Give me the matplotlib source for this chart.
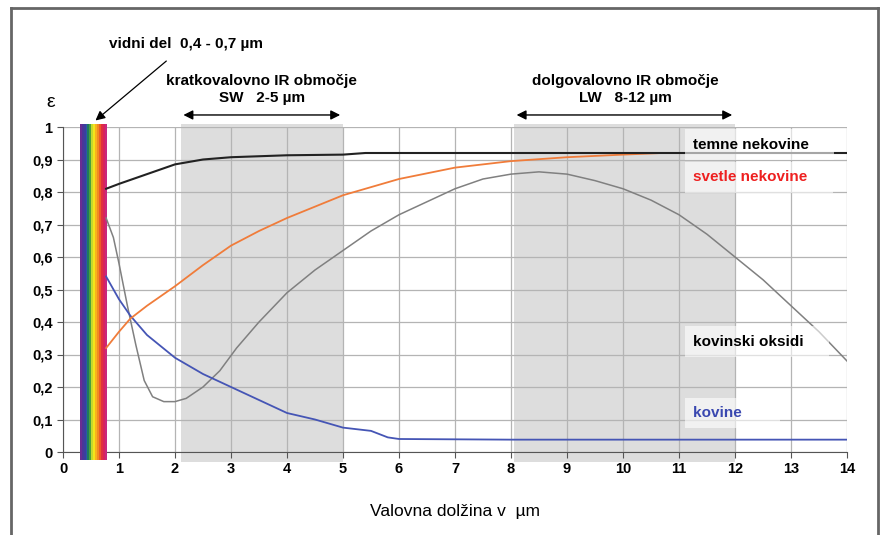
import matplotlib
matplotlib.use("Agg")
import matplotlib.pyplot as plt
from matplotlib.lines import Line2D

plt.rcParams["font.family"] = ["Liberation Sans", "DejaVu Sans"]

# emissivity curves
temne_x = [0.77, 1.0, 1.5, 2.0, 2.5, 3.0, 3.5, 4.0, 5.0, 5.4, 6.0, 8.0, 10.0, 12.0, 14.0]
temne_y = [0.81, 0.825, 0.855, 0.885, 0.90, 0.907, 0.91, 0.913, 0.915, 0.92, 0.92, 0.92, 0.92, 0.92, 0.92]

svetle_x = [0.77, 1.0, 1.2, 1.5, 2.0, 2.5, 3.0, 3.5, 4.0, 4.5, 5.0, 5.5, 6.0, 7.0, 8.0, 9.0, 10.0, 10.7]
svetle_y = [0.32, 0.37, 0.41, 0.45, 0.51, 0.575, 0.635, 0.68, 0.72, 0.755, 0.79, 0.815, 0.84, 0.875, 0.895, 0.907, 0.915, 0.92]

oksidi_x = [0.77, 0.9, 1.0, 1.15, 1.3, 1.45, 1.6, 1.8, 2.0, 2.2, 2.5, 2.8, 3.1, 3.5, 4.0, 4.5, 5.0,
            5.5, 6.0, 6.5, 7.0, 7.5, 8.0, 8.5, 9.0, 9.5, 10.0, 10.5, 11.0, 11.5, 12.0, 12.5, 13.0, 13.5, 14.0]
oksidi_y = [0.72, 0.66, 0.58, 0.45, 0.33, 0.22, 0.17, 0.155, 0.155, 0.165, 0.20, 0.25, 0.32, 0.40, 0.49, 0.56, 0.62,
            0.68, 0.73, 0.77, 0.81, 0.84, 0.855, 0.862, 0.855, 0.835, 0.81, 0.775, 0.73, 0.67, 0.60, 0.53, 0.45, 0.37, 0.28]

kovine_x = [0.77, 1.0, 1.2, 1.5, 2.0, 2.5, 3.0, 3.5, 4.0, 4.5, 5.0, 5.5, 5.8, 6.0, 8.0, 10.0, 12.0, 14.0]
kovine_y = [0.54, 0.47, 0.42, 0.36, 0.29, 0.24, 0.20, 0.16, 0.12, 0.10, 0.075, 0.065, 0.045, 0.04, 0.038, 0.038, 0.038, 0.038]

sw_band = (2.1, 5.0)
lw_band = (8.05, 12.0)
visible_band = (0.3, 0.78)

x_ticks = list(range(0, 15))
y_ticks = [i / 10 for i in range(11)]
y_labels = ["0" if v == 0 else ("1" if v == 1 else f"{v:.1f}".replace(".", ",")) for v in y_ticks]

# strip colours, left to right
spectrum_colors = ["#6a2c91", "#4a3698", "#3a3f9e", "#2d55a8", "#1f7a5c", "#4aa03c",
                   "#c4d82e", "#f2e51a", "#f7b21c", "#f08a22", "#ec5a28", "#e0303e",
                   "#d8245a", "#c8287e"]

fig = plt.figure(figsize=(8.8, 5.35), dpi=100)
ax = fig.add_axes([63 / 880, 83 / 535, 784 / 880, 325 / 535])
ax.set_xlim(0, 14)
ax.set_ylim(0, 1)

# shaded IR bands, spilling slightly past the plot area
for lo, hi in (sw_band, lw_band):
    ax.fill_between([lo, hi], -0.03, 1.01, color="#dddddd", zorder=0, clip_on=False, linewidth=0)

ax.set_xticks(x_ticks)
ax.set_yticks(y_ticks)
ax.set_yticklabels(y_labels)
ax.grid(True, color="#b4b4b4", linewidth=0.9, zorder=1)
ax.set_axisbelow(True)
for side in ("top", "right"):
    ax.spines[side].set_visible(False)
for side in ("left", "bottom"):
    ax.spines[side].set_color("#555555")
ax.tick_params(colors="#555555", length=4, labelcolor="black", labelsize=10.5)
for lab in ax.get_xticklabels() + ax.get_yticklabels():
    lab.set_fontweight("bold")

# visible spectrum strip, one thin band per colour
step = (visible_band[1] - visible_band[0]) / len(spectrum_colors)
for i, c in enumerate(spectrum_colors):
    left = visible_band[0] + i * step
    ax.fill_between([left, left + step * 1.02], -0.025, 1.008, color=c, linewidth=0,
                    zorder=3, clip_on=False)

ax.plot(oksidi_x, oksidi_y, color="#808080", linewidth=1.1, zorder=4)
ax.plot(kovine_x, kovine_y, color="#4555b5", linewidth=1.3, zorder=4)
ax.plot(svetle_x, svetle_y, color="#f07c3a", linewidth=1.3, zorder=4)
ax.plot(temne_x, temne_y, color="#222222", linewidth=1.5, zorder=5)

box = dict(facecolor="white", alpha=0.6, edgecolor="none", pad=6)
ax.text(11.25, 0.945, "temne nekovine" + " " * 4, fontsize=11, fontweight="bold", color="black",
        va="center", ha="left", bbox=box, zorder=6)
ax.text(11.25, 0.845, "svetle nekovine" + " " * 4, fontsize=11, fontweight="bold", color="#ee2020",
        va="center", ha="left", bbox=box, zorder=6)
ax.text(11.25, 0.34, "kovinski oksidi" + " " * 4, fontsize=11, fontweight="bold", color="black",
        va="center", ha="left", bbox=box, zorder=6)
ax.text(11.25, 0.12, "kovine" + " " * 7, fontsize=11, fontweight="bold", color="#3a48b0",
        va="center", ha="left", bbox=box, zorder=6)

# range arrows and captions
arrow = dict(arrowstyle="<|-|>", color="black", linewidth=1.0, mutation_scale=14, shrinkA=0, shrinkB=0)
ax.annotate("", xy=(2.15, 1.037), xytext=(4.95, 1.037), arrowprops=arrow, annotation_clip=False)
ax.annotate("", xy=(8.1, 1.037), xytext=(11.95, 1.037), arrowprops=arrow, annotation_clip=False)
ax.text(3.55, 1.115, "kratkovalovno IR območje\nSW   2-5 µm", ha="center", va="center",
        fontsize=11, fontweight="bold", linespacing=1.25)
ax.text(10.05, 1.115, "dolgovalovno IR območje\nLW   8-12 µm", ha="center", va="center",
        fontsize=11, fontweight="bold", linespacing=1.25)
ax.annotate("vidni del  0,4 - 0,7 µm", xy=(0.58, 1.02), xytext=(0.83, 1.255),
            fontsize=11, fontweight="bold", ha="left", va="center",
            arrowprops=dict(arrowstyle="-|>", color="black", linewidth=0.9, mutation_scale=14,
                            shrinkA=8, shrinkB=0),
            annotation_clip=False)
ax.text(-0.22, 1.075, "ε", fontsize=14, ha="center", va="center")

ax.set_xlabel("Valovna dolžina v  µm", fontsize=12.5, labelpad=20)

# outer frame
for xs, ys in (([11 / 880, 878 / 880], [0.985, 0.985]),
               ([11 / 880, 11 / 880], [0.985, 0.0]),
               ([878 / 880, 878 / 880], [0.985, 0.0])):
    fig.add_artist(Line2D(xs, ys, transform=fig.transFigure, color="#666666", linewidth=2))

fig.savefig("out.png", dpi=100)
